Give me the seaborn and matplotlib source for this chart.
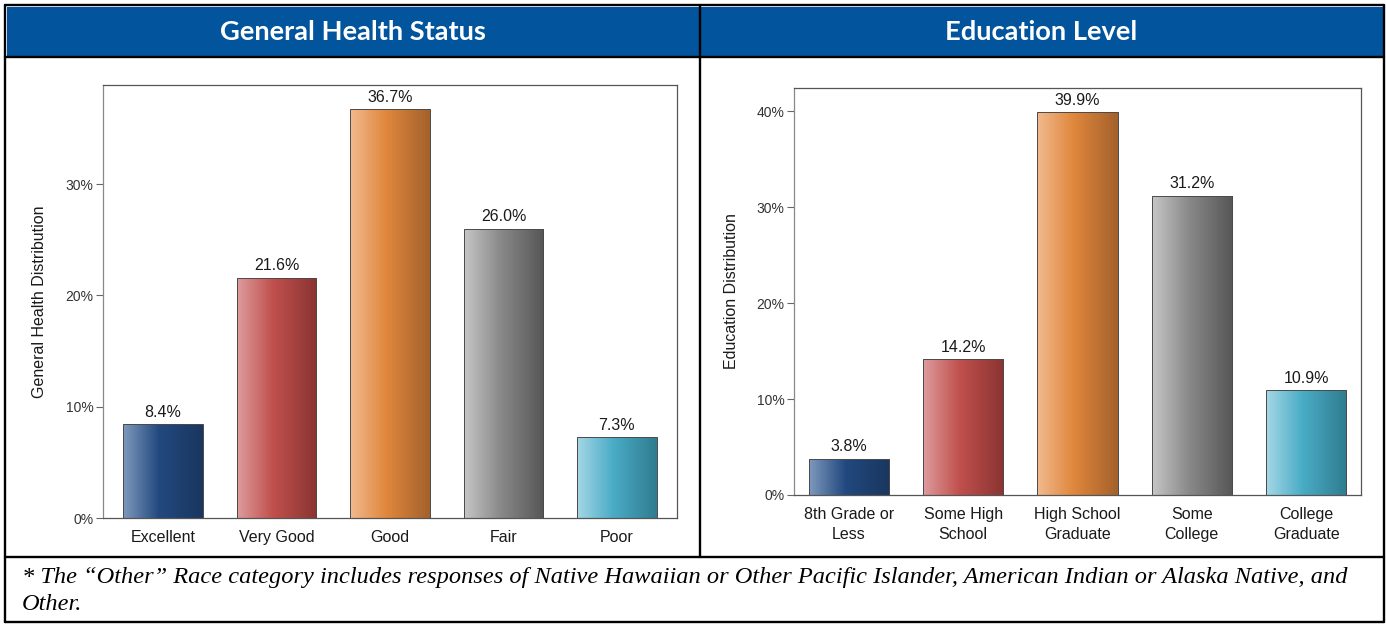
import numpy as np
import pandas as pd
import matplotlib
matplotlib.use('Agg')
import matplotlib.pyplot as plt
import seaborn as sns
from matplotlib.colors import LinearSegmentedColormap
from matplotlib.patches import Rectangle
from matplotlib.lines import Line2D
from matplotlib.ticker import FuncFormatter

# Data
health_categories = ['Excellent', 'Very Good', 'Good', 'Fair', 'Poor']
health_values = [8.4, 21.6, 36.7, 26.0, 7.3]

education_categories = ['8th Grade or\nLess', 'Some High\nSchool', 'High School\nGraduate',
                        'Some\nCollege', 'College\nGraduate']
education_values = [3.8, 14.2, 39.9, 31.2, 10.9]

panel_titles = ['General Health Status', 'Education Level']
y_labels = ['General Health Distribution', 'Education Distribution']
footnote_lines = ['* The \u201cOther\u201d Race category includes responses of Native Hawaiian or Other '
                  'Pacific Islander, American Indian or Alaska Native, and',
                  'Other.']

# Bar colours: light edge, middle, dark edge (gives the glossy gradient look)
mid_colors = ['#22497f', '#c0504d', '#e0873d', '#8a8a8a', '#4aacc6']
light_colors = ['#7f99bd', '#dd9c9d', '#f2ba8f', '#c6c6c6', '#a5d7e6']
dark_colors = ['#19365e', '#8a3432', '#a4612b', '#565656', '#2f7c8f']

HEADER_BLUE = '#02559d'
W, H = 1386, 624


def px_rect(l, t, r, b):
    return [l / W, 1 - b / H, (r - l) / W, (b - t) / H]


sns.set_style('white')
plt.rcParams['font.family'] = ['Liberation Sans', 'DejaVu Sans']

fig = plt.figure(figsize=(W / 100, H / 100), dpi=100)


def draw_panel(ax, cats, vals, ylabel, yticks, ylim, xlim, label_x):
    df = pd.DataFrame({'cat': cats, 'val': vals})
    sns.barplot(data=df, x='cat', y='val', hue='cat', palette=mid_colors, legend=False,
                width=0.7, saturation=1, edgecolor='#4a4a4a', linewidth=0.7, ax=ax)

    # overlay a horizontal gradient clipped to each bar
    grad = np.linspace(0, 1, 256).reshape(1, -1)
    for i, cont in enumerate(ax.containers):
        cmap = LinearSegmentedColormap.from_list(
            f'g{i}', [(0, light_colors[i]), (0.45, mid_colors[i]), (1, dark_colors[i])])
        for patch in cont:
            x0, y0 = patch.get_x(), patch.get_y()
            w, h = patch.get_width(), patch.get_height()
            im = ax.imshow(grad, cmap=cmap, extent=[x0, x0 + w, y0, y0 + h],
                           aspect='auto', zorder=2, interpolation='bicubic')
            im.set_clip_path(patch)
            patch.set_zorder(3)
            patch.set_facecolor('none')
        ax.bar_label(cont, labels=[f'{v:.1f}%' for v in cont.datavalues],
                     padding=3, fontsize=11.5, color='#1a1a1a')

    ax.set_xlim(*xlim)
    ax.set_ylim(*ylim)
    ax.set_yticks(yticks)
    ax.yaxis.set_major_formatter(FuncFormatter(lambda v, p: f'{v:.0f}%'))
    ax.tick_params(axis='y', left=True, length=5, width=0.8, color='#666',
                   labelsize=10, labelcolor='#333', pad=2)
    ax.tick_params(axis='x', bottom=False, labelsize=11.5, labelcolor='#1a1a1a', pad=5)
    for t in ax.get_xticklabels():
        t.set_linespacing(1.45)
    ax.set_xlabel('')
    ax.set_ylabel(ylabel, fontsize=11.5, color='#1a1a1a', va='center')
    ax.yaxis.set_label_coords(label_x, 0.5)
    for s in ax.spines.values():
        s.set_color('#555')
        s.set_linewidth(0.9)
    ax.spines['left'].set_color('#888')


ax1 = fig.add_axes(px_rect(103, 85, 677, 518))
draw_panel(ax1, health_categories, health_values, y_labels[0],
           [0, 10, 20, 30], (0, 38.9), (-0.53, 4.53), (40 - 103) / 574)

ax2 = fig.add_axes(px_rect(794, 88, 1361, 495))
draw_panel(ax2, education_categories, education_values, y_labels[1],
           [0, 10, 20, 30, 40], (0, 42.4), (-0.48, 4.48), (732 - 794) / 567)

# header bars
for (l, r), title in zip([(7, 699), (700, 1383)], panel_titles):
    fig.patches.append(Rectangle((l / W, 1 - 56 / H), (r - l) / W, 49 / H,
                                 transform=fig.transFigure, facecolor=HEADER_BLUE,
                                 edgecolor='none', zorder=0))
    fig.text((l + r) / 2 / W, 1 - 32 / H, title, color='white', fontsize=19.6,
             fontweight='bold', family=['Lato', 'DejaVu Sans'], ha='center', va='center')

# table borders
lw = 1.7
border = [((5, 1384), (5, 5)), ((5, 1384), (622, 622)), ((5, 5), (5, 622)),
          ((1384, 1384), (5, 622)), ((5, 1384), (57, 57)), ((5, 1384), (557, 557)),
          ((699.5, 699.5), (5, 557))]
for xs, ys in border:
    fig.add_artist(Line2D([x / W for x in xs], [1 - y / H for y in ys],
                          transform=fig.transFigure, color='black', linewidth=lw))

# footnote
for text, y in zip(footnote_lines, [578, 605]):
    fig.text(22 / W, 1 - y / H, text, fontsize=17.6, fontstyle='italic',
             family=['Liberation Serif', 'DejaVu Serif'], color='black', va='center')

fig.savefig('out.png', dpi=100)
